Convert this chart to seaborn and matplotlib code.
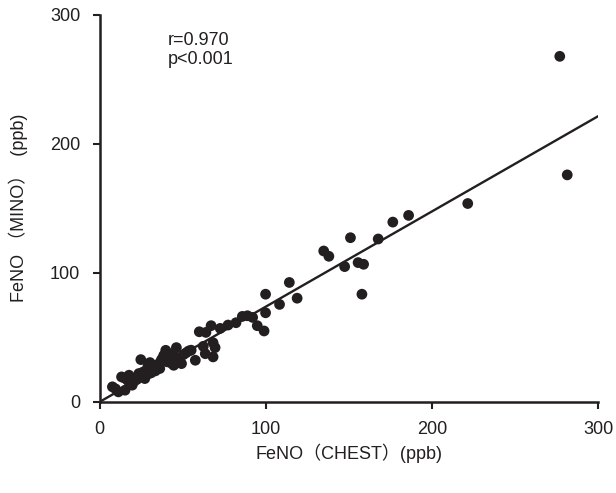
import matplotlib
matplotlib.use("Agg")
import matplotlib.pyplot as plt
import seaborn as sns
import numpy as np
import pandas as pd

chest = [276.9, 281.4, 221.5, 185.9, 176.4, 167.6, 150.9, 134.8, 137.9, 147.4,
         155.5, 158.8, 157.8, 114.1, 118.8, 108.2, 99.8, 99.8, 98.9, 94.8,
         92.0, 88.9, 85.8, 82.0, 77.2, 72.5, 67.0, 63.9, 59.9, 68.2,
         69.4, 68.2, 63.5, 62.3, 57.5, 53.5, 50.4, 49.2, 46.1, 45.0,
         44.5, 39.7, 42.1, 37.3, 36.1, 32.6, 30.2, 29.7, 27.1, 24.7,
         23.5, 21.4, 19.5, 17.6, 14.7, 13.1, 15.2, 11.2, 7.6, 9.5,
         40.5, 43.0, 47.5, 35.0, 33.5, 28.5, 26.0, 25.0, 31.0, 38.5,
         41.5, 55.0, 52.0, 34.0, 22.5, 20.0, 18.0, 16.5, 29.0, 36.8]
mino = [267.8, 175.9, 153.7, 144.5, 139.3, 126.2, 127.2, 116.9, 112.8, 104.8,
        107.9, 106.6, 83.4, 92.5, 80.3, 75.5, 83.4, 69.0, 54.9, 59.0,
        65.4, 66.7, 66.2, 61.3, 59.5, 56.9, 59.0, 53.8, 54.3, 45.8,
        42.0, 34.8, 37.3, 43.0, 32.2, 39.4, 36.6, 29.6, 42.0, 35.5,
        28.3, 39.9, 34.8, 33.0, 25.8, 27.0, 30.4, 21.9, 18.0, 32.7,
        21.9, 16.7, 12.9, 20.6, 18.5, 19.3, 9.0, 7.7, 11.6, 10.0,
        31.0, 30.0, 33.5, 29.0, 24.0, 25.0, 23.0, 19.5, 22.5, 36.0,
        37.5, 40.0, 38.0, 28.0, 17.5, 15.0, 14.0, 17.0, 27.5, 31.5]

fit_slope = 0.738
fit_intercept = 0.0
fit_x = [0, 300]

r_text = "r=0.970\np<0.001"
x_ticks = [0, 100, 200, 300]
y_ticks = [0, 100, 200, 300]
x_label = "FeNO（CHEST）(ppb)"
y_label = "FeNO （MINO）  (ppb)"

df = pd.DataFrame({"chest": chest, "mino": mino})

sns.set_theme(style="white")
plt.rcParams['font.family'] = ['Liberation Sans', 'Noto Sans CJK SC', 'DejaVu Sans']

fig = plt.figure(figsize=(6.16, 4.93), dpi=100)
ax = fig.add_axes([0.162, 0.185, 0.809, 0.785])

sns.scatterplot(data=df, x="chest", y="mino", ax=ax, color="#231f20",
                s=60, edgecolor="none", linewidth=0, zorder=3)
fx = np.array(fit_x, dtype=float)
sns.lineplot(x=fx, y=fit_slope * fx + fit_intercept, ax=ax, color="#231f20",
             linewidth=1.7, zorder=2)

ax.set_xlim(0, 300)
ax.set_ylim(0, 300)
ax.set_xticks(x_ticks)
ax.set_yticks(y_ticks)
ax.tick_params(axis="both", direction="out", length=5, width=1.5,
               color="#231f20", labelsize=13, labelcolor="#231f20", pad=9,
               bottom=True, left=True)
for side in ["top", "right"]:
    ax.spines[side].set_visible(False)
for side in ["left", "bottom"]:
    ax.spines[side].set_color("#231f20")
    ax.spines[side].set_linewidth(1.8)

ax.set_xlabel(x_label, fontsize=13, color="#231f20", labelpad=4)
ax.set_ylabel(y_label, fontsize=13, color="#231f20", labelpad=16)

ax.text(0.137, 0.955, r_text, transform=ax.transAxes, fontsize=13,
        color="#231f20", va="top", ha="left", linespacing=1.15)

fig.savefig("out.png", dpi=100)
